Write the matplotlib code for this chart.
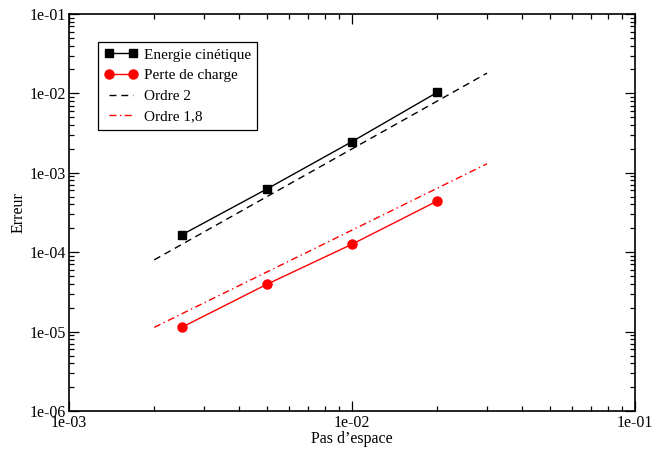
import matplotlib
matplotlib.use("Agg")
import matplotlib.pyplot as plt
from matplotlib.ticker import LogLocator, FuncFormatter, NullFormatter

plt.rcParams['font.family'] = ['Liberation Serif', 'DejaVu Serif']

# Data
h = [2.5e-3, 5e-3, 1e-2, 2e-2]
energie = [1.65e-4, 6.25e-4, 2.47e-3, 1.03e-2]
perte = [1.13e-5, 3.94e-5, 1.26e-4, 4.41e-4]
ordre2_x = [2e-3, 3e-2]
ordre2_y = [8e-5, 1.8e-2]
ordre18_x = [2e-3, 3e-2]
ordre18_y = [1.13e-5, 1.3e-3]

fs = 11.5

fig = plt.figure(figsize=(6.52, 4.5), dpi=100)
ax = fig.add_axes([69/652, 1-411/450, (635-69)/652, (411-14)/450])

ax.plot(h, energie, color='black', lw=1.0, marker='s', ms=6.3, label='Energie cinétique')
ax.plot(h, perte, color='red', lw=1.0, marker='o', ms=6.5, label='Perte de charge')
ax.plot(ordre2_x, ordre2_y, color='black', lw=1.0, dashes=(5, 3.5), label='Ordre 2')
ax.plot(ordre18_x, ordre18_y, color='red', lw=1.0, dashes=(5, 2.5, 1, 2.5), label='Ordre 1,8')

ax.set_xscale('log')
ax.set_yscale('log')
ax.set_xlim(1e-3, 1e-1)
ax.set_ylim(1e-6, 1e-1)

fmt = FuncFormatter(lambda v, p: f"{v:.0e}")
ax.xaxis.set_major_locator(LogLocator(base=10, numticks=10))
ax.yaxis.set_major_locator(LogLocator(base=10, numticks=10))
ax.xaxis.set_minor_locator(LogLocator(base=10, subs=range(2, 10), numticks=20))
ax.yaxis.set_minor_locator(LogLocator(base=10, subs=range(2, 10), numticks=20))
ax.xaxis.set_major_formatter(fmt)
ax.yaxis.set_major_formatter(fmt)
ax.xaxis.set_minor_formatter(NullFormatter())
ax.yaxis.set_minor_formatter(NullFormatter())

ax.tick_params(which='both', direction='in', top=True, right=True, labelsize=fs, width=0.9)
ax.tick_params(which='major', length=7)
ax.tick_params(axis='x', which='major', pad=3)
ax.tick_params(axis='y', which='major', pad=2)
ax.tick_params(which='minor', length=3.5)
for s in ax.spines.values():
    s.set_linewidth(1.2)

ax.set_xlabel('Pas d’espace', fontsize=fs, labelpad=0)
ax.set_ylabel('Erreur', fontsize=fs, labelpad=2)

leg = ax.legend(loc='upper left', bbox_to_anchor=((98-69)/566, 1-(42-14)/397), borderaxespad=0,
                fontsize=11, numpoints=2, fancybox=False, framealpha=1, edgecolor='black',
                handlelength=2.2, handletextpad=0.4, labelspacing=0.45, borderpad=0.4)
leg.get_frame().set_linewidth(0.9)

fig.savefig('out.png', dpi=100)
